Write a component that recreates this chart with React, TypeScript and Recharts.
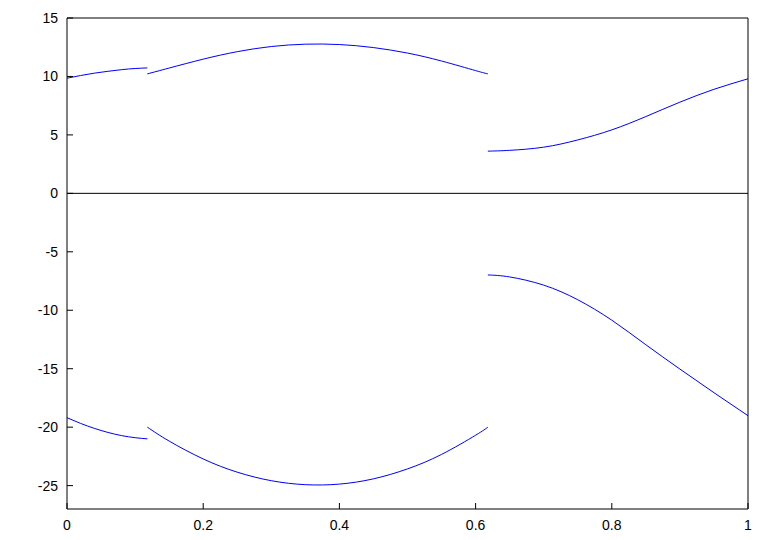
import { LineChart, Line, XAxis, YAxis, ReferenceLine } from "recharts";

// x positions of the three pieces (breaks at ~0.118 and ~0.618)
const xA = [0, 0.02, 0.04, 0.06, 0.08, 0.1, 0.118];
const xB = [0.118, 0.15, 0.2, 0.25, 0.3, 0.35, 0.4, 0.45, 0.5, 0.55, 0.6, 0.618];
const xC = [0.618, 0.65, 0.7, 0.75, 0.8, 0.85, 0.9, 0.95, 1];

const upperA = [9.85, 10.08, 10.28, 10.44, 10.58, 10.68, 10.73];
const upperB = [10.22, 10.72, 11.48, 12.12, 12.56, 12.76, 12.73, 12.47, 12.0, 11.32, 10.5, 10.22];
const upperC = [3.61, 3.68, 3.95, 4.57, 5.43, 6.57, 7.8, 8.9, 9.8];

const lowerA = [-19.19, -19.68, -20.1, -20.45, -20.72, -20.9, -21.0];
const lowerB = [-20.0, -21.19, -22.72, -23.85, -24.58, -24.92, -24.87, -24.42, -23.57, -22.33, -20.69, -20.0];
const lowerC = [-6.98, -7.15, -7.85, -9.1, -10.85, -12.95, -15.03, -17.05, -19.02];

const xTicks = [0, 0.2, 0.4, 0.6, 0.8, 1];
const yTicks = [-25, -20, -15, -10, -5, 0, 5, 10, 15];

const pts = (xs: number[], ys: number[]) => xs.map((x, i) => ({ x, y: ys[i] }));

const segments = [
  pts(xA, upperA),
  pts(xB, upperB),
  pts(xC, upperC),
  pts(xA, lowerA),
  pts(xB, lowerB),
  pts(xC, lowerC),
];

const font = "'Liberation Sans', Arial, Helvetica, sans-serif";
const tickStyle = { fill: "#000", fontSize: 14, fontFamily: font };

export default function App() {
  return (
    <div style={{ position: "absolute", left: 0, top: 0, background: "#fff" }}>
      <LineChart width={771} height={540} margin={{ top: 17, right: 22, bottom: 6, left: 7 }}>
        <XAxis
          type="number"
          dataKey="x"
          domain={[0, 1]}
          ticks={xTicks}
          height={25}
          tickSize={-6}
          tickMargin={17}
          tick={tickStyle}
          tickFormatter={(v) => String(v)}
          stroke="#000"
          interval={0}
        />
        <XAxis
          xAxisId="top"
          orientation="top"
          type="number"
          dataKey="x"
          domain={[0, 1]}
          ticks={xTicks}
          height={1}
          tickSize={-6}
          tick={false}
          stroke="#000"
          interval={0}
        />
        <YAxis
          type="number"
          domain={[-27, 15]}
          ticks={yTicks}
          width={60}
          tickSize={-6}
          tickMargin={15}
          tick={tickStyle}
          stroke="#000"
          interval={0}
        />
        <YAxis
          yAxisId="right"
          orientation="right"
          type="number"
          domain={[-27, 15]}
          ticks={yTicks}
          width={1}
          tickSize={-6}
          tick={false}
          stroke="#000"
          interval={0}
        />
        <ReferenceLine y={0} stroke="#000" strokeWidth={1} />
        {segments.map((seg, i) => (
          <Line
            key={i}
            data={seg}
            dataKey="y"
            type="natural"
            stroke="#0000ff"
            strokeWidth={1}
            dot={false}
            activeDot={false}
            isAnimationActive={false}
          />
        ))}
      </LineChart>
    </div>
  );
}
